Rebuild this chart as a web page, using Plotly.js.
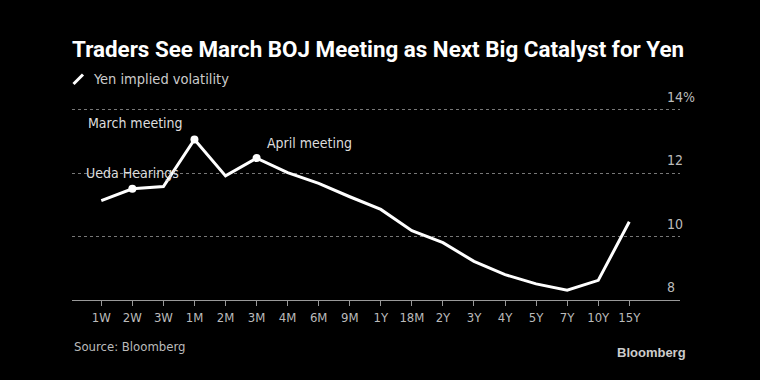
<!DOCTYPE html>
<html><head><meta charset="utf-8">
<script src="https://cdn.plot.ly/plotly-3.0.1.min.js"></script>
<style>html,body{margin:0;padding:0;background:#000;}</style>
</head><body><div id="chart" style="width:760px;height:380px;"></div>
<script>
const tenors = ['1W','2W','3W','1M','2M','3M','4M','6M','9M','1Y','18M','2Y','3Y','4Y','5Y','7Y','10Y','15Y'];
const vol = [11.14,11.51,11.58,13.07,11.92,12.48,12.02,11.68,11.26,10.86,10.19,9.81,9.22,8.80,8.51,8.31,8.62,10.47];
const eventTenors = ['2W','1M','3M'];
const eventLabels = ['Ueda Hearings','March meeting','April meeting'];
const yTickVals = [8,10,12,14];
const yTickText = ['8','10','12','14%'];

const FONT = 'DejaVu Sans Condensed, DejaVu Sans, sans-serif';
const eventVals = eventTenors.map(t => vol[tenors.indexOf(t)]);

const traces = [
  {x: tenors, y: vol, type: 'scatter', mode: 'lines', line: {color: '#ffffff', width: 3}, hoverinfo: 'skip', showlegend: false},
  {x: eventTenors, y: eventVals, type: 'scatter', mode: 'markers', marker: {color: '#ffffff', size: 8}, hoverinfo: 'skip', showlegend: false}
];

const L = 72, R = 680, T = 100, B = 300, W = 760, H = 380;
const px = x => (x - L) / (R - L);
const py = y => (B - y) / (B - T);

const eventStyle = [
  {xanchor: 'center', xshift: 0, yshift: 16},
  {xanchor: 'right', xshift: -9, yshift: 16},
  {xanchor: 'left', xshift: 8, yshift: 15}
];
const annotations = eventTenors.map((t, i) => ({
  x: t, y: eventVals[i], xref: 'x', yref: 'y', text: eventLabels[i], showarrow: false,
  xanchor: eventStyle[i].xanchor, yanchor: 'middle', xshift: eventStyle[i].xshift, yshift: eventStyle[i].yshift,
  font: {family: FONT, size: 14, color: '#dddddd'}
}));
yTickVals.forEach((v, i) => annotations.push({
  x: 1, y: v, xref: 'paper', yref: 'y', text: yTickText[i], showarrow: false,
  xanchor: 'left', yanchor: 'middle', xshift: -15, yshift: 13,
  font: {family: FONT, size: 14, color: '#bbbbbb'}
}));
annotations.push({x: px(91), y: py(79), xref: 'paper', yref: 'paper', xanchor: 'left', yanchor: 'middle',
  text: 'Yen implied volatility', showarrow: false, font: {family: FONT, size: 14.5, color: '#cccccc'}});
annotations.push({x: px(72), y: py(346), xref: 'paper', yref: 'paper', xanchor: 'left', yanchor: 'middle',
  text: 'Source: Bloomberg', showarrow: false, font: {family: FONT, size: 13, color: '#bbbbbb'}});
annotations.push({x: px(688), y: py(352), xref: 'paper', yref: 'paper', xanchor: 'right', yanchor: 'middle',
  text: '<b>Bloomberg</b>', showarrow: false, font: {family: 'Liberation Sans, Arial, sans-serif', size: 13, color: '#cccccc'}});

const layout = {
  width: W, height: H,
  paper_bgcolor: '#000000', plot_bgcolor: '#000000',
  margin: {l: L, r: W - R, t: T, b: H - B, pad: 0},
  title: {text: '<b>Traders See March BOJ Meeting as Next Big Catalyst for Yen</b>', xref: 'paper', x: 0, xanchor: 'left',
    yref: 'container', y: 1 - 49 / H, yanchor: 'middle', font: {family: 'Roboto, sans-serif', size: 22.4, color: '#ffffff'}},
  showlegend: false,
  xaxis: {type: 'category', range: [-0.943, 18.633], showgrid: false, zeroline: false,
    showline: true, linecolor: '#999999', linewidth: 1,
    ticks: 'outside', ticklen: 5, tickcolor: '#999999', tickwidth: 1,
    tickfont: {family: FONT, size: 13, color: '#bbbbbb'}, fixedrange: true},
  yaxis: {range: [8, 14.315], tickvals: [10, 12, 14], showticklabels: false, showgrid: true,
    gridcolor: '#777777', griddash: 'dot', gridwidth: 1, zeroline: false, showline: false, fixedrange: true},
  shapes: [{type: 'line', xref: 'paper', yref: 'paper', x0: px(73.5), y0: py(84), x1: px(83), y1: py(74.5),
    line: {color: '#ffffff', width: 3}}],
  annotations: annotations
};
Plotly.newPlot('chart', traces, layout, {displayModeBar: false, staticPlot: true});
</script></body></html>
